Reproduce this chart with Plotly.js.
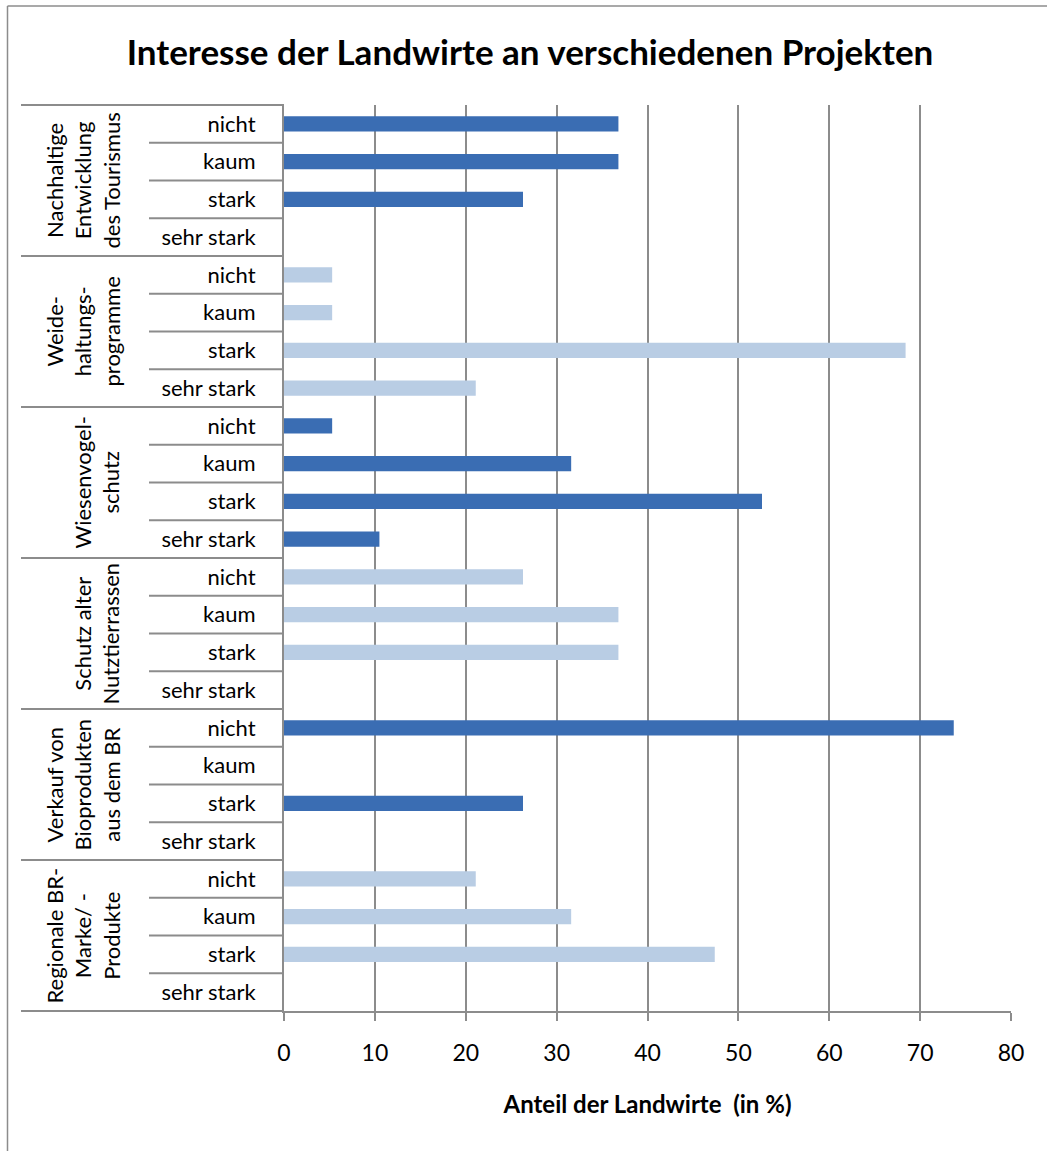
<!DOCTYPE html>
<html>
<head>
<meta charset="utf-8">
<script src="https://cdn.plot.ly/plotly-3.0.1.min.js"></script>
<style>html,body{margin:0;padding:0;background:#fff;}#chart{width:1047px;height:1151px;}</style>
</head>
<body>
<div id="chart"></div>
<script>
// ---- data ----
const groups = [
  "Nachhaltige<br>Entwicklung<br>des Tourismus",
  "Weide-<br>haltungs-<br>programme",
  "Wiesenvogel-<br>schutz",
  "Schutz alter<br>Nutztierrassen",
  "Verkauf von<br>Bioprodukten<br>aus dem BR",
  "Regionale BR-<br>Marke/ -<br>Produkte"
];
const levels = ["nicht", "kaum", "stark", "sehr stark"];
const valTourismus   = [36.8, 36.8, 26.3, 0];
const valWeide       = [5.3, 5.3, 68.4, 21.1];
const valWiesenvogel = [5.3, 31.6, 52.6, 10.5];
const valNutztier    = [26.3, 36.8, 36.8, 0];
const valBioprodukte = [73.7, 0, 26.3, 0];
const valRegional    = [21.1, 31.6, 47.4, 0];
const groupValues = [valTourismus, valWeide, valWiesenvogel, valNutztier, valBioprodukte, valRegional];
const xTicks = [0, 10, 20, 30, 40, 50, 60, 70, 80];

const titleText = "Interesse der Landwirte an verschiedenen Projekten";
const xTitleText = "Anteil der Landwirte&nbsp;&nbsp;(in %)";

// ---- layout geometry ----
const W = 1047, H = 1151;
const M = {l: 284, r: 36, t: 105, b: 140};
const PW = W - M.l - M.r, PH = H - M.t - M.b;
const px2x = p => (p - M.l) / PW;
const py2y = p => (H - M.b - p) / PH;

const nRows = groups.length * levels.length;
const DARK = "#3a6db3", LIGHT = "#b9cde4", GRID = "#8c8c8c";

const traces = [];
groups.forEach((g, gi) => {
  const ys = levels.map((_, li) => gi * levels.length + li);
  traces.push({
    type: "bar", orientation: "h",
    x: groupValues[gi], y: ys,
    width: 0.4,
    marker: {color: gi % 2 === 0 ? DARK : LIGHT, line: {width: 0}},
    hoverinfo: "x", showlegend: false
  });
});

const tickvals = [], ticktext = [];
groups.forEach((g, gi) => levels.forEach((l, li) => { tickvals.push(gi * levels.length + li); ticktext.push(l); }));

const shapes = [];
// outer chart border (top + left)
shapes.push({type: "line", xref: "paper", yref: "paper", x0: px2x(7.5), x1: px2x(1060), y0: py2y(6), y1: py2y(6), line: {color: "#8c8c8c", width: 1.5}});
shapes.push({type: "line", xref: "paper", yref: "paper", x0: px2x(7.5), x1: px2x(7.5), y0: py2y(6), y1: py2y(1160), line: {color: "#8c8c8c", width: 1.5}});
// category table lines
for (let k = 0; k <= nRows; k++) {
  const yp = 1 - k / nRows;
  const isGroup = k % levels.length === 0;
  shapes.push({type: "line", xref: "paper", yref: "paper",
    x0: px2x(isGroup ? 21 : 149), x1: 0, y0: yp, y1: yp,
    line: {color: GRID, width: 2}});
}

const annotations = [];
groups.forEach((g, gi) => {
  const yc = 1 - (gi * levels.length + levels.length / 2) / nRows;
  annotations.push({xref: "paper", yref: "paper", x: px2x(126), y: yc,
    xanchor: "right", yanchor: "middle", text: g, textangle: -90, align: "center",
    showarrow: false, font: {family: "Lato, sans-serif", size: 22, color: "#000"}});
});

const layout = {
  width: W, height: H,
  margin: M,
  paper_bgcolor: "#fff", plot_bgcolor: "#fff",
  title: {text: "<b>" + titleText + "</b>", x: 530 / W, xref: "container", xanchor: "center",
          y: 1 - 53 / H, yanchor: "middle", yref: "container",
          font: {family: "Lato, sans-serif", size: 35, color: "#000"}},
  xaxis: {range: [0, 80], tickvals: xTicks, ticktext: xTicks.map(String),
          showgrid: true, gridcolor: GRID, gridwidth: 2,
          showline: true, linecolor: GRID, linewidth: 2,
          ticks: "outside", ticklen: 8, tickwidth: 2, tickcolor: GRID,
          ticklabelstandoff: 12,
          tickfont: {family: "Lato, sans-serif", size: 23, color: "#000"},
          zeroline: false, fixedrange: true,
          title: {text: "<b>" + xTitleText + "</b>", standoff: 32,
                  font: {family: "Lato, sans-serif", size: 24, color: "#000"}}},
  yaxis: {range: [nRows - 0.5, -0.5], tickvals: tickvals, ticktext: ticktext,
          showgrid: false, zeroline: false,
          showline: true, linecolor: GRID, linewidth: 2,
          ticks: "outside", ticklen: 22, tickcolor: "rgba(0,0,0,0)",
          tickfont: {family: "Lato, sans-serif", size: 22, color: "#000"},
          fixedrange: true},
  bargap: 0.6,
  shapes: shapes,
  annotations: annotations
};

Plotly.newPlot("chart", traces, layout, {displayModeBar: false, staticPlot: true});
</script>
</body>
</html>
